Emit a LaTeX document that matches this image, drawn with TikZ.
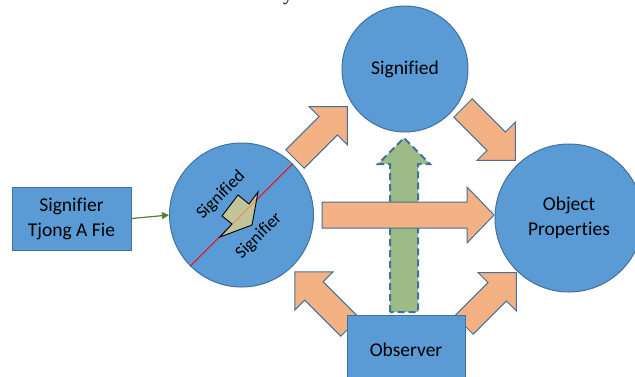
\documentclass[tikz,border=0pt]{standalone}
\usepackage{fontspec}
\setmainfont{Carlito}[Ligatures=NoCommon]
\newfontfamily\serifcut{Liberation Serif}
\usetikzlibrary{arrows.meta}
\definecolor{ofblue}{HTML}{5B9BD5}
\definecolor{ofline}{HTML}{41719C}
\definecolor{oforange}{HTML}{F4B183}
\definecolor{ofgreen}{RGB}{156,187,134}
\definecolor{khaki}{RGB}{193,196,153}
\definecolor{darkgreen}{RGB}{84,130,53}
\definecolor{lineorange}{RGB}{244,134,74}
% #1 style, #2 tail coordinate, #3 angle, #4 length, #5 shaft half width, #6 head half width, #7 head length
\newcommand{\blockarrow}[7]{%
  \begin{scope}[shift={#2},rotate=#3]
    \draw[#1] (0,-#5) -- (#4-#7,-#5) -- (#4-#7,-#6) -- (#4,0) -- (#4-#7,#6) -- (#4-#7,#5) -- (0,#5) -- cycle;
  \end{scope}}
\begin{document}
\begin{tikzpicture}[x=1pt,y=-1pt,
  bluefill/.style={fill=ofblue, draw=ofline, line width=1pt},
  orangearrow/.style={fill=oforange, draw=ofline, line width=1pt},
  greenarrow/.style={fill=ofgreen, draw=ofline, line width=2pt, dash pattern=on 7pt off 4pt},
  lbl/.style={font=\fontsize{19.5}{25}\selectfont, align=center, text=black},
  rot/.style={font=\fontsize{17.5}{20}\selectfont, rotate=45, inner sep=0pt, text=black}]
\useasboundingbox (0,0) rectangle (635,376);
\fill[white] (0,0) rectangle (635,376);

% fragment of text from above
\node[anchor=base west, inner sep=0pt, font=\serifcut\fontsize{20}{24}\selectfont] (frag) at (283,0.5) {y};

% circles
\node[circle, bluefill, minimum size=126pt, inner sep=0pt, lbl] (signified) at (405,69) {Signified};
\node[circle, bluefill, minimum size=144pt, inner sep=0pt] (sign) at (241.5,215) {};
\node[circle, bluefill, minimum size=148pt, inner sep=0pt, lbl] (obj) at (569,218) {Object\\Properties};

% green dashed arrow
\coordinate (gtail) at (404,312);
\blockarrow{greenarrow}{(gtail)}{90}{174}{14}{26}{26}

% orange block arrows
\coordinate (ultail) at (295,159);
\coordinate (urtail) at (463,108);
\coordinate (lltail) at (350,327);
\coordinate (lrtail) at (464,325);
\coordinate (htail) at (322,215);
\blockarrow{orangearrow}{(ultail)}{45}{74}{13}{27}{27}
\blockarrow{orangearrow}{(urtail)}{-45}{74}{13}{27}{27}
\blockarrow{orangearrow}{(lltail)}{135}{78}{13}{27}{27}
\blockarrow{orangearrow}{(lrtail)}{45}{74}{13}{27}{27}
\blockarrow{orangearrow}{(htail)}{0}{172}{13}{28}{27}

% boxes
\node[rectangle, bluefill, minimum width=119pt, minimum height=63pt, lbl] (sgn) at (71.5,218.5) {Signifier\\Tjong A Fie};
\node[rectangle, bluefill, minimum width=118pt, minimum height=69pt, lbl] (obs) at (406,349.5) {Observer};

% green connector
\draw[darkgreen, line width=1.2pt, -{Triangle[length=7pt,width=7pt]}] (sgn.east) -- (sign.west);

% contents of the left circle
\draw[red, line width=1pt] (sign.225) -- (sign.45);
\coordinate (k1) at (238,195);
\coordinate (k2) at (249,204);
\coordinate (k3) at (258,192);
\coordinate (k4) at (252,225);
\coordinate (k5) at (220,237);
\coordinate (k6) at (232,224);
\coordinate (k7) at (222,216);
\fill[khaki] (k1) -- (k2) -- (k3) -- (k4) -- (k5) -- (k6) -- (k7) -- cycle;
\begin{scope}
  \clip (k1) -- (k2) -- (k3) -- (k4) -- (k5) -- (k6) -- (k7) -- cycle;
  \draw[lineorange, line width=1pt] (sign.225) -- (sign.45);
\end{scope}
\draw[black, line width=0.9pt, line join=miter] (k1) -- (k2) -- (k3) -- (k4) -- (k5) -- (k6) -- (k7) -- cycle;
\node[rot] (tsd) at (221,195) {Signified};
\node[rot] (tsr) at (259,236) {Signifier};
\end{tikzpicture}
\end{document}
